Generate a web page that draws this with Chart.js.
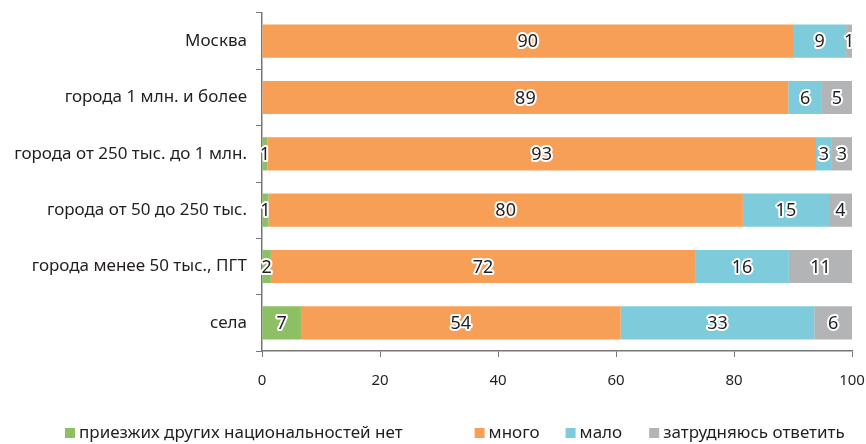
<!DOCTYPE html>
<html lang="ru">
<head>
    <meta charset="UTF-8">
    <title>Приезжие других национальностей</title>
    <script src="https://cdn.jsdelivr.net/npm/chart.js"></script>
    <style>
        html, body { margin: 0; padding: 0; background: #fff; }
        #wrap { width: 866px; height: 444px; }
    </style>
</head>
<body>
    <div id="wrap"><canvas id="natChart" width="866" height="444"></canvas></div>

    <script>
        // категории (сверху вниз)
        const categories = [
            "Москва",
            "города 1 млн. и более",
            "города от 250 тыс. до 1 млн.",
            "города от 50 до 250 тыс.",
            "города менее 50 тыс., ПГТ",
            "села"
        ];

        // значения, считанные по длине полос (подписи - округлённые)
        const netValues    = [0,    0,    0.9,  1.1,  1.5,  6.6];
        const mnogoValues  = [90.0, 89.2, 93.0, 80.4, 71.9, 54.2];
        const maloValues   = [9.0,  5.7,  2.7,  14.6, 15.9, 32.8];
        const zatrValues   = [1.0,  5.1,  3.4,  3.9,  10.7, 6.4];

        const xTicks = [0, 20, 40, 60, 80, 100];

        const seriesNames = [
            "приезжих других национальностей нет",
            "много",
            "мало",
            "затрудняюсь ответить"
        ];
        const seriesColors = ['#8dbf64', '#f79f56', '#7ecbdb', '#b2b4b6'];

        const FONT = '"Noto Sans", "Open Sans", sans-serif';
        const TEXT = '#231f20';

        // подписи на сегментах с белой обводкой
        const barLabels = {
            id: 'barLabels',
            afterDatasetsDraw(chart) {
                const ctx = chart.ctx;
                ctx.save();
                ctx.font = '18px ' + FONT;
                ctx.textAlign = 'center';
                ctx.textBaseline = 'middle';
                ctx.lineJoin = 'round';
                chart.data.datasets.forEach((ds, i) => {
                    const meta = chart.getDatasetMeta(i);
                    meta.data.forEach((bar, j) => {
                        const v = Math.round(ds.data[j]);
                        if (!v) return;
                        const p = bar.getCenterPoint();
                        ctx.lineWidth = 4;
                        ctx.strokeStyle = '#ffffff';
                        ctx.strokeText(v, p.x, p.y + 1);
                        ctx.fillStyle = TEXT;
                        ctx.fillText(v, p.x, p.y + 1);
                    });
                });
                ctx.restore();
            }
        };

        // легенда внизу: как в оригинале, первый пункт отделён большим промежутком
        const bottomLegend = {
            id: 'bottomLegend',
            afterDraw(chart) {
                const ctx = chart.ctx;
                const gaps = [72, 26, 27];
                const y = 433;
                let x = 65;
                ctx.save();
                ctx.font = '17px ' + FONT;
                ctx.textBaseline = 'middle';
                ctx.textAlign = 'left';
                chart.data.datasets.forEach((ds, i) => {
                    ctx.fillStyle = ds.backgroundColor;
                    ctx.fillRect(x, y - 5, 10, 10);
                    ctx.fillStyle = TEXT;
                    ctx.fillText(ds.label, x + 14, y);
                    x += 14 + ctx.measureText(ds.label).width + (gaps[i] || 0);
                });
                ctx.restore();
            }
        };

        const ctx = document.getElementById('natChart').getContext('2d');

        new Chart(ctx, {
            type: 'bar',
            data: {
                labels: categories,
                datasets: seriesNames.map((name, i) => ({
                    label: name,
                    data: [netValues, mnogoValues, maloValues, zatrValues][i],
                    backgroundColor: seriesColors[i]
                }))
            },
            options: {
                indexAxis: 'y',
                responsive: false,
                animation: false,
                layout: { padding: { top: 13, right: 14, left: 0, bottom: 0 } },
                datasets: {
                    bar: { barPercentage: 0.59, categoryPercentage: 1.0, borderWidth: 0 }
                },
                scales: {
                    x: {
                        stacked: true,
                        min: 0,
                        max: 100,
                        afterBuildTicks: (s) => { s.ticks = xTicks.map(v => ({ value: v })); },
                        grid: { drawOnChartArea: false, drawTicks: true, tickLength: 6, color: '#777' },
                        border: { color: '#777', width: 1.5 },
                        ticks: { color: TEXT, font: { family: FONT, size: 15 }, padding: 15 },
                        afterFit: (s) => { s.height = 93; s.paddingLeft = 0; s.paddingRight = 0; }
                    },
                    y: {
                        stacked: true,
                        grid: { drawOnChartArea: false, drawTicks: true, tickLength: 6, offset: true, color: '#777' },
                        border: { color: '#777', width: 1.5 },
                        ticks: { color: TEXT, font: { family: FONT, size: 17 }, padding: 9 },
                        afterFit: (s) => { s.width = 262; s.paddingTop = 0; s.paddingBottom = 0; }
                    }
                },
                plugins: {
                    legend: { display: false },
                    tooltip: { enabled: false }
                }
            },
            plugins: [barLabels, bottomLegend]
        });
    </script>
</body>
</html>
